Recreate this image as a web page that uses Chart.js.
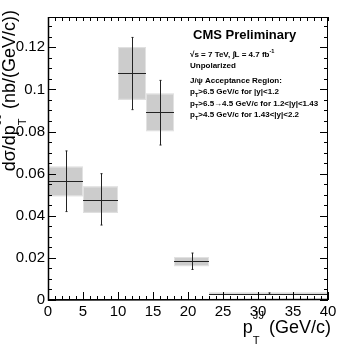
<!DOCTYPE html>
<html>
<head>
<meta charset="utf-8">
<script src="https://cdn.jsdelivr.net/npm/chart.js@4.4.0/dist/chart.umd.min.js"></script>
<style>
    html, body { margin: 0; padding: 0; background: #fff; }
</style>
</head>
<body>
<canvas id="chart" width="346" height="346"></canvas>
<script>
// pT^JJ bins (GeV/c) and measured cross sections (nb/(GeV/c))
const binLow   = [0, 5, 10, 14, 18, 23];
const binHigh  = [5, 10, 14, 18, 23, 40];
const xCenter  = [2.5, 7.5, 12, 16, 20.5, 31.5];
const yValue   = [0.0563, 0.0476, 0.1078, 0.0891, 0.0184, 0.0030];
// statistical error bar ends
const statLow  = [0.0420, 0.0356, 0.0904, 0.0736, 0.0145, 0.0027];
const statHigh = [0.0708, 0.0600, 0.1247, 0.1043, 0.0223, 0.0034];
// systematic boxes
const systLow  = [0.0493, 0.0414, 0.0951, 0.0802, 0.0161, 0.0024];
const systHigh = [0.0633, 0.0539, 0.1201, 0.0980, 0.0204, 0.0035];

const xTicks = [0, 5, 10, 15, 20, 25, 30, 35, 40];
const yTicks = [0, 0.02, 0.04, 0.06, 0.08, 0.1, 0.12];
const yTickLabels = ['0', '0.02', '0.04', '0.06', '0.08', '0.1', '0.12'];

const FAMILY = "'Liberation Sans', Arial, sans-serif";
const fnt = (size, bold) => (bold ? 'bold ' : '') + size + 'px ' + FAMILY;

// text with sub/superscripts: parts like {t:'p'} or {sub:'T', sup:'JJ'}
function richWidth(ctx, parts, size, bold, small) {
    let w = 0;
    parts.forEach(p => {
        if (p.t !== undefined) {
            ctx.font = fnt(size, bold);
            w += ctx.measureText(p.t).width;
        } else {
            ctx.font = fnt(size * small, bold);
            w += Math.max(p.sub ? ctx.measureText(p.sub).width : 0, p.sup ? ctx.measureText(p.sup).width : 0);
        }
    });
    return w;
}

function drawRich(ctx, parts, x, y, size, bold, o) {
    let cx = x;
    ctx.textAlign = 'left';
    ctx.textBaseline = 'alphabetic';
    parts.forEach(p => {
        if (p.t !== undefined) {
            ctx.font = fnt(size, bold);
            ctx.fillText(p.t, cx, y);
            cx += ctx.measureText(p.t).width;
        } else {
            ctx.font = fnt(size * o.small, bold);
            let w = 0;
            if (p.sub) { ctx.fillText(p.sub, cx, y + size * o.subOff); w = ctx.measureText(p.sub).width; }
            if (p.sup) { ctx.fillText(p.sup, cx, y - size * o.supOff); w = Math.max(w, ctx.measureText(p.sup).width); }
            cx += w;
        }
    });
}

const decorations = {
    id: 'decorations',
    beforeDatasetsDraw(chart) {
        const { ctx, scales: { x, y } } = chart;
        ctx.save();
        for (let i = 0; i < xCenter.length; i++) {
            const x0 = x.getPixelForValue(binLow[i]);
            const x1 = x.getPixelForValue(binHigh[i]);
            const y0 = y.getPixelForValue(systHigh[i]);
            const y1 = y.getPixelForValue(systLow[i]);
            ctx.fillStyle = '#cccccc';
            ctx.fillRect(x0, y0, x1 - x0, y1 - y0);
            ctx.strokeStyle = '#e2e2e2';
            ctx.lineWidth = 1;
            ctx.strokeRect(x0 + 0.5, y0 + 0.5, x1 - x0 - 1, y1 - y0 - 1);
        }
        ctx.restore();
    },
    afterDatasetsDraw(chart) {
        const { ctx, scales: { x, y } } = chart;
        ctx.save();
        ctx.strokeStyle = '#222';
        ctx.lineWidth = 1;
        for (let i = 0; i < xCenter.length; i++) {
            const xc = Math.round(x.getPixelForValue(xCenter[i])) + 0.5;
            const yc = Math.round(y.getPixelForValue(yValue[i])) + 0.5;
            const yt = y.getPixelForValue(statHigh[i]);
            const yb = y.getPixelForValue(statLow[i]);
            ctx.beginPath();
            ctx.moveTo(x.getPixelForValue(binLow[i]), yc);
            ctx.lineTo(x.getPixelForValue(binHigh[i]), yc);
            ctx.moveTo(xc, yt);
            ctx.lineTo(xc, yb);
            ctx.moveTo(xc - 1, yt); ctx.lineTo(xc + 1, yt);
            ctx.moveTo(xc - 1, yb); ctx.lineTo(xc + 1, yb);
            ctx.stroke();
        }
        ctx.restore();
    },
    afterDraw(chart) {
        const { ctx, chartArea: a, scales: { x, y } } = chart;
        ctx.save();
        // frame
        ctx.strokeStyle = '#000';
        ctx.lineWidth = 1;
        ctx.strokeRect(a.left + 0.5, a.top + 0.5, a.right - a.left - 1, a.bottom - a.top - 1);
        ctx.lineWidth = 1.5;
        ctx.beginPath();
        ctx.moveTo(a.left + 0.5, a.top); ctx.lineTo(a.left + 0.5, a.bottom);
        ctx.lineTo(a.right, a.bottom - 0.5);
        ctx.stroke();
        // tick marks, inside the frame
        ctx.lineWidth = 1;
        ctx.beginPath();
        for (let v = 0; v <= 40; v++) {
            const px = Math.round(x.getPixelForValue(v)) + 0.5;
            const len = v % 5 === 0 ? 8 : 4;
            ctx.moveTo(px, a.bottom); ctx.lineTo(px, a.bottom - len);
            ctx.moveTo(px, a.top); ctx.lineTo(px, a.top + 4);
        }
        for (let k = 0; k * 0.005 <= y.max + 1e-9; k++) {
            const py = Math.round(y.getPixelForValue(k * 0.005)) + 0.5;
            const len = k % 4 === 0 ? 8 : 4;
            ctx.moveTo(a.left, py); ctx.lineTo(a.left + len, py);
            ctx.moveTo(a.right, py); ctx.lineTo(a.right - len, py);
        }
        ctx.stroke();

        ctx.fillStyle = '#000';
        // x title
        const xParts = [{ t: 'p' }, { sub: 'T', sup: 'JJ' }, { t: ' (GeV/c)' }];
        const axisOpt = { small: 0.62, subOff: 0.62, supOff: 0.8 };
        const xw = richWidth(ctx, xParts, 18, false, axisOpt.small);
        drawRich(ctx, xParts, 331 - xw, 333, 18, false, axisOpt);
        // y title, rotated
        const yParts = [{ t: 'dσ/dp' }, { sub: 'T', sup: 'JJ' }, { t: ' (nb/(GeV/c))' }];
        const yw = richWidth(ctx, yParts, 18, false, axisOpt.small);
        ctx.save();
        ctx.translate(15, 10 + yw);
        ctx.rotate(-Math.PI / 2);
        drawRich(ctx, yParts, 0, 0, 18, false, axisOpt);
        ctx.restore();

        // legend text block
        ctx.font = fnt(13, true);
        ctx.textAlign = 'left';
        ctx.textBaseline = 'alphabetic';
        ctx.fillText('CMS Preliminary', 193, 39);
        const smallOpt = { small: 0.7, subOff: 0.35, supOff: 0.45 };
        const lines = [
            [[{ t: '√s = 7 TeV, ∫L = 4.7 fb' }, { sup: '-1' }], 56.5],
            [[{ t: 'Unpolarized' }], 68],
            [[{ t: 'J/ψ Acceptance Region:' }], 83],
            [[{ t: 'p' }, { sub: 'T' }, { t: '>6.5 GeV/c for |y|<1.2' }], 94],
            [[{ t: 'p' }, { sub: 'T' }, { t: '>6.5→4.5 GeV/c for 1.2<|y|<1.43' }], 105.5],
            [[{ t: 'p' }, { sub: 'T' }, { t: '>4.5 GeV/c for 1.43<|y|<2.2' }], 117]
        ];
        lines.forEach(([parts, yy]) => drawRich(ctx, parts, 190, yy, 8, true, smallOpt));
        ctx.restore();
    }
};

new Chart(document.getElementById('chart'), {
    type: 'scatter',
    data: {
        datasets: [{
            data: xCenter.map((v, i) => ({ x: v, y: yValue[i] })),
            pointRadius: 0,
            borderColor: '#222',
            backgroundColor: '#222'
        }]
    },
    options: {
        responsive: false,
        animation: false,
        layout: { padding: { top: 17, right: 18, left: 0, bottom: 0 } },
        plugins: { legend: { display: false }, tooltip: { enabled: false } },
        scales: {
            x: {
                type: 'linear',
                min: 0,
                max: 40,
                afterBuildTicks: s => { s.ticks = xTicks.map(v => ({ value: v })); },
                afterFit: s => { s.height = 46; },
                grid: { display: false, drawTicks: false },
                border: { display: false },
                ticks: {
                    padding: 3,
                    maxRotation: 0,
                    autoSkip: false,
                    color: '#000',
                    font: { family: FAMILY, size: 15 },
                    callback: v => String(v)
                }
            },
            y: {
                type: 'linear',
                min: 0,
                max: 0.1344,
                afterBuildTicks: s => { s.ticks = yTicks.map(v => ({ value: v })); },
                afterFit: s => { s.width = 48; },
                grid: { display: false, drawTicks: false },
                border: { display: false },
                ticks: {
                    padding: 3,
                    autoSkip: false,
                    color: '#000',
                    font: { family: FAMILY, size: 15 },
                    callback: (v, i) => yTickLabels[i]
                }
            }
        }
    },
    plugins: [decorations]
});
</script>
</body>
</html>
